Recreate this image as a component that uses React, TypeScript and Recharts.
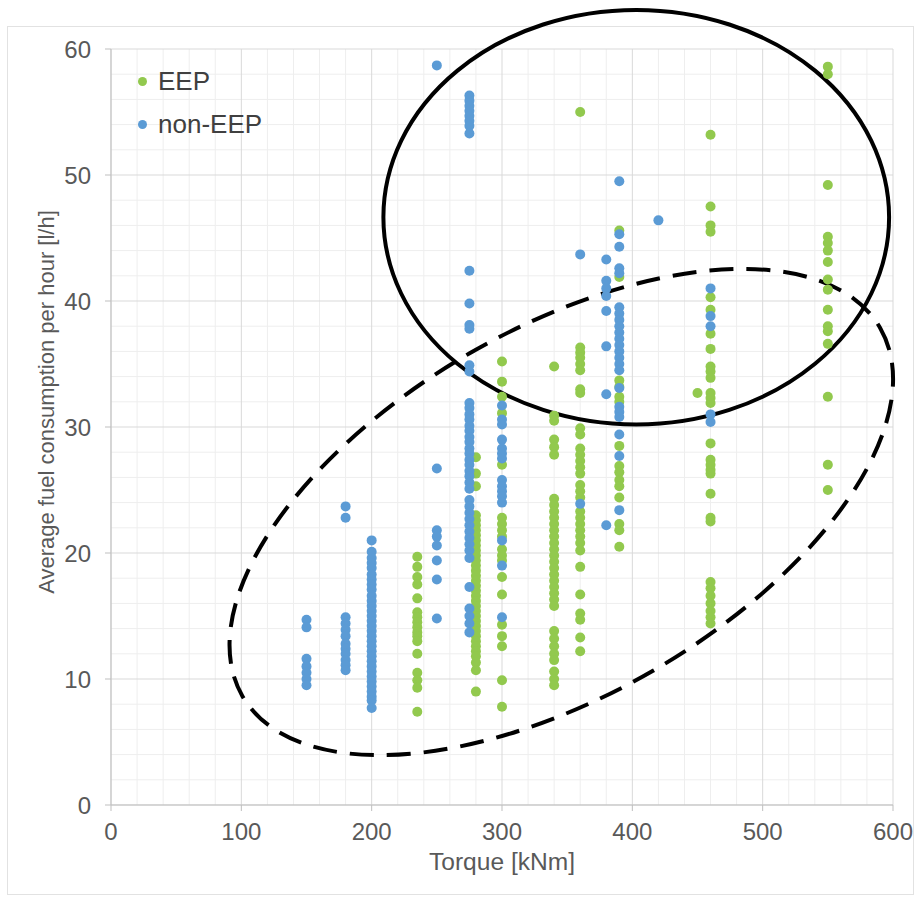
import {
  ScatterChart,
  Scatter,
  XAxis,
  YAxis,
  CartesianGrid,
  ReferenceArea,
  Legend,
} from "recharts";

const FONT = '"Liberation Sans", Arial, sans-serif';
const GREEN = "#92c94e";
const BLUE = "#5b9bd5";

// tick values
const X_TICKS = [0, 100, 200, 300, 400, 500, 600];
const Y_TICKS = [0, 10, 20, 30, 40, 50, 60];
const X_MINOR = [20, 40, 60, 80, 120, 140, 160, 180, 220, 240, 260, 280, 320, 340, 360, 380, 420, 440, 460, 480, 520, 540, 560, 580];
const Y_MINOR = [2, 4, 6, 8, 12, 14, 16, 18, 22, 24, 26, 28, 32, 34, 36, 38, 42, 44, 46, 48, 52, 54, 56, 58];

// non-EEP (blue), values per torque column [l/h]
const nonEep150 = [14.7, 14.1, 11.6, 11.0, 10.5, 10.0, 9.5];
const nonEep180 = [23.7, 22.8, 14.9, 14.4, 13.9, 13.4, 12.8, 12.4, 12.0, 11.5, 11.1, 10.7];
const nonEep200 = [21.0, 20.1, 19.6, 19.2, 18.8, 18.3, 17.9, 17.5, 17.1, 16.6, 16.2, 15.8, 15.4, 15.0, 14.6, 14.2, 13.8, 13.4, 13.0, 12.6, 12.2, 11.8, 11.4, 11.0, 10.6, 10.2, 9.8, 9.4, 9.0, 8.6, 8.3, 7.7];
const nonEep250 = [58.7, 26.7, 21.8, 21.3, 20.6, 19.4, 17.9, 14.8];
const nonEep275 = [56.3, 55.9, 55.5, 55.1, 54.7, 54.3, 53.9, 53.3, 42.4, 39.8, 38.1, 37.8, 34.9, 34.4, 31.9, 31.5, 31.0, 30.6, 30.1, 29.7, 29.2, 28.8, 28.3, 27.9, 27.4, 27.0, 26.5, 26.1, 25.6, 25.1, 24.2, 23.7, 23.2, 22.7, 22.2, 21.7, 21.2, 20.7, 20.2, 19.6, 17.3, 15.6, 15.0, 14.4, 13.7];
const nonEep300 = [31.7, 30.6, 30.2, 29.0, 28.3, 27.9, 27.5, 25.8, 25.3, 24.9, 24.5, 24.0, 21.0, 19.0, 14.9];
const nonEep360 = [43.7, 23.9];
const nonEep380 = [43.3, 41.6, 41.0, 40.4, 39.2, 36.4, 32.6, 22.2];
const nonEep390 = [49.5, 45.3, 44.3, 42.6, 42.2, 39.5, 39.0, 38.5, 38.0, 37.5, 37.0, 36.5, 36.0, 35.5, 35.0, 34.5, 33.1, 31.6, 31.2, 30.8, 29.4, 27.7, 23.4];
const nonEep420 = [46.4];
const nonEep460 = [41.0, 38.8, 38.0, 31.0, 30.4];

// EEP (green)
const eep235 = [19.7, 18.9, 18.1, 17.5, 16.4, 15.3, 14.9, 14.5, 14.1, 13.7, 13.4, 13.0, 12.0, 10.5, 9.9, 9.3, 7.4];
const eep280 = [27.6, 26.3, 25.3, 23.0, 22.6, 22.2, 21.8, 21.4, 21.0, 20.6, 20.2, 19.8, 19.4, 19.0, 18.6, 18.2, 17.8, 17.4, 17.0, 16.6, 16.2, 15.8, 15.4, 15.0, 14.6, 14.2, 13.8, 13.4, 13.0, 12.6, 12.2, 11.8, 11.3, 10.7, 9.0];
const eep300 = [35.2, 33.6, 32.4, 31.1, 27.0, 22.8, 22.3, 21.8, 21.3, 20.3, 19.8, 19.4, 18.1, 16.7, 14.3, 13.4, 12.6, 9.9, 7.8];
const eep340 = [34.8, 30.9, 30.5, 29.0, 28.4, 27.8, 24.3, 23.8, 23.3, 22.8, 22.3, 21.8, 21.3, 20.8, 20.3, 19.8, 19.3, 18.8, 18.3, 17.8, 17.3, 16.8, 16.3, 15.8, 13.8, 13.2, 12.6, 12.0, 11.5, 10.6, 10.0, 9.5];
const eep360 = [55.0, 36.3, 35.9, 35.5, 35.0, 34.5, 33.0, 32.7, 29.9, 29.4, 28.3, 27.8, 27.3, 26.8, 26.3, 25.4, 24.9, 24.4, 23.3, 22.8, 22.3, 21.8, 21.3, 20.8, 20.2, 18.9, 16.7, 15.2, 14.7, 13.3, 12.2];
const eep390 = [45.6, 41.9, 33.7, 33.2, 32.4, 32.0, 28.5, 26.9, 26.4, 25.8, 25.3, 24.4, 22.3, 21.8, 20.5];
const eep450 = [32.7];
const eep460 = [53.2, 47.5, 46.0, 45.5, 40.3, 39.3, 37.4, 36.2, 34.8, 34.4, 33.9, 32.7, 32.3, 31.9, 28.7, 27.4, 27.0, 26.6, 26.3, 24.7, 22.8, 22.5, 17.7, 17.2, 16.6, 16.0, 15.4, 14.9, 14.4];
const eep550 = [58.6, 58.0, 49.2, 45.1, 44.6, 44.0, 43.1, 41.7, 40.9, 39.3, 38.0, 37.6, 36.6, 32.4, 27.0, 25.0];

const nonEepColumns: [number, number[]][] = [
  [150, nonEep150], [180, nonEep180], [200, nonEep200], [250, nonEep250],
  [275, nonEep275], [300, nonEep300], [360, nonEep360], [380, nonEep380],
  [390, nonEep390], [420, nonEep420], [460, nonEep460],
];
const eepColumns: [number, number[]][] = [
  [235, eep235], [280, eep280], [300, eep300], [340, eep340], [360, eep360],
  [390, eep390], [450, eep450], [460, eep460], [550, eep550],
];

const toPoints = (cols: [number, number[]][]) =>
  cols.flatMap(([x, ys]) => ys.map((y) => ({ x, y })));

const eepData = toPoints(eepColumns);
const nonEepData = toPoints(nonEepColumns);

// annotation ellipses, bounding box in data units (before rotation)
const solidEllipse = { x1: 209, x2: 597, y1: 30.2, y2: 63.1, angle: 0 };
const dashedEllipse = { x1: 63, x2: 628, y1: 8.7, y2: 37.8, angle: -30 };

const legendItems = [
  { label: "EEP", color: GREEN },
  { label: "non-EEP", color: BLUE },
];

const makeEllipse = (angle: number, dashed: boolean) => (props: any) => {
  const { x, y, width, height } = props;
  const cx = x + width / 2;
  const cy = y + height / 2;
  return (
    <ellipse
      cx={cx}
      cy={cy}
      rx={Math.abs(width) / 2}
      ry={Math.abs(height) / 2}
      transform={`rotate(${angle} ${cx} ${cy})`}
      fill="none"
      stroke="#000"
      strokeWidth={4}
      strokeDasharray={dashed ? "24 13" : undefined}
    />
  );
};

const dot = (color: string) => (props: any) =>
  <circle cx={props.cx} cy={props.cy} r={5} fill={color} />;

const renderLegend = () => (
  <div style={{ fontFamily: FONT, fontSize: 26, color: "#404040" }}>
    {legendItems.map((item) => (
      <div key={item.label} style={{ display: "flex", alignItems: "center", height: 43 }}>
        <span
          style={{
            display: "inline-block",
            width: 9,
            height: 9,
            borderRadius: "50%",
            background: item.color,
            marginRight: 11,
          }}
        />
        {item.label}
      </div>
    ))}
  </div>
);

const YTitle = () => {
  const cx = 46;
  const cy = 402;
  return (
    <text
      x={cx}
      y={cy}
      transform={`rotate(-90 ${cx} ${cy})`}
      textAnchor="middle"
      dominantBaseline="central"
      fontFamily={FONT}
      fontSize={22}
      fill="#595959"
    >
      Average fuel  consumption per hour [l/h]
    </text>
  );
};

const XTitle = (props: any) => {
  const { viewBox } = props;
  return (
    <text
      x={viewBox.x + viewBox.width / 2}
      y={862}
      textAnchor="middle"
      dominantBaseline="central"
      fontFamily={FONT}
      fontSize={23}
      fill="#595959"
      textLength={146}
      lengthAdjust="spacingAndGlyphs"
    >
      Torque [kNm]
    </text>
  );
};

export default function App() {
  const tick = { fill: "#595959", fontSize: 24, fontFamily: FONT };
  return (
    <div style={{ position: "fixed", left: 0, top: 0, width: 922, height: 902, background: "#fff" }}>
      <div
        style={{
          position: "absolute",
          left: 7,
          top: 26,
          width: 907,
          height: 869,
          border: "1px solid #e2e2e2",
          boxSizing: "border-box",
        }}
      />
      <ScatterChart width={922} height={902} margin={{ top: 49, right: 29, bottom: 37, left: 0 }}>
        <CartesianGrid stroke="#eeeeee" verticalValues={X_MINOR} horizontalValues={Y_MINOR} />
        <CartesianGrid stroke="#d9d9d9" />
        <XAxis
          type="number"
          dataKey="x"
          domain={[0, 600]}
          ticks={X_TICKS}
          interval={0}
          height={60}
          tick={tick}
          tickSize={6}
          tickMargin={12}
          axisLine={{ stroke: "#bfbfbf" }}
          tickLine={{ stroke: "#bfbfbf" }}
          label={{ content: XTitle }}
        />
        <YAxis
          type="number"
          dataKey="y"
          domain={[0, 60]}
          ticks={Y_TICKS}
          interval={0}
          width={111}
          tick={tick}
          tickSize={6}
          tickMargin={14}
          axisLine={{ stroke: "#bfbfbf" }}
          tickLine={{ stroke: "#bfbfbf" }}
          label={{ content: YTitle }}
        />
        <Scatter name="EEP" data={eepData} fill={GREEN} shape={dot(GREEN)} isAnimationActive={false} />
        <Scatter name="non-EEP" data={nonEepData} fill={BLUE} shape={dot(BLUE)} isAnimationActive={false} />
        <ReferenceArea
          {...solidEllipse}
          ifOverflow="visible"
          shape={makeEllipse(solidEllipse.angle, false)}
        />
        <ReferenceArea
          {...dashedEllipse}
          ifOverflow="visible"
          shape={makeEllipse(dashedEllipse.angle, true)}
        />
        <Legend
          layout="vertical"
          align="center"
          verticalAlign="middle"
          content={renderLegend}
          wrapperStyle={{ left: 138, top: 60, width: "auto" }}
        />
      </ScatterChart>
    </div>
  );
}
